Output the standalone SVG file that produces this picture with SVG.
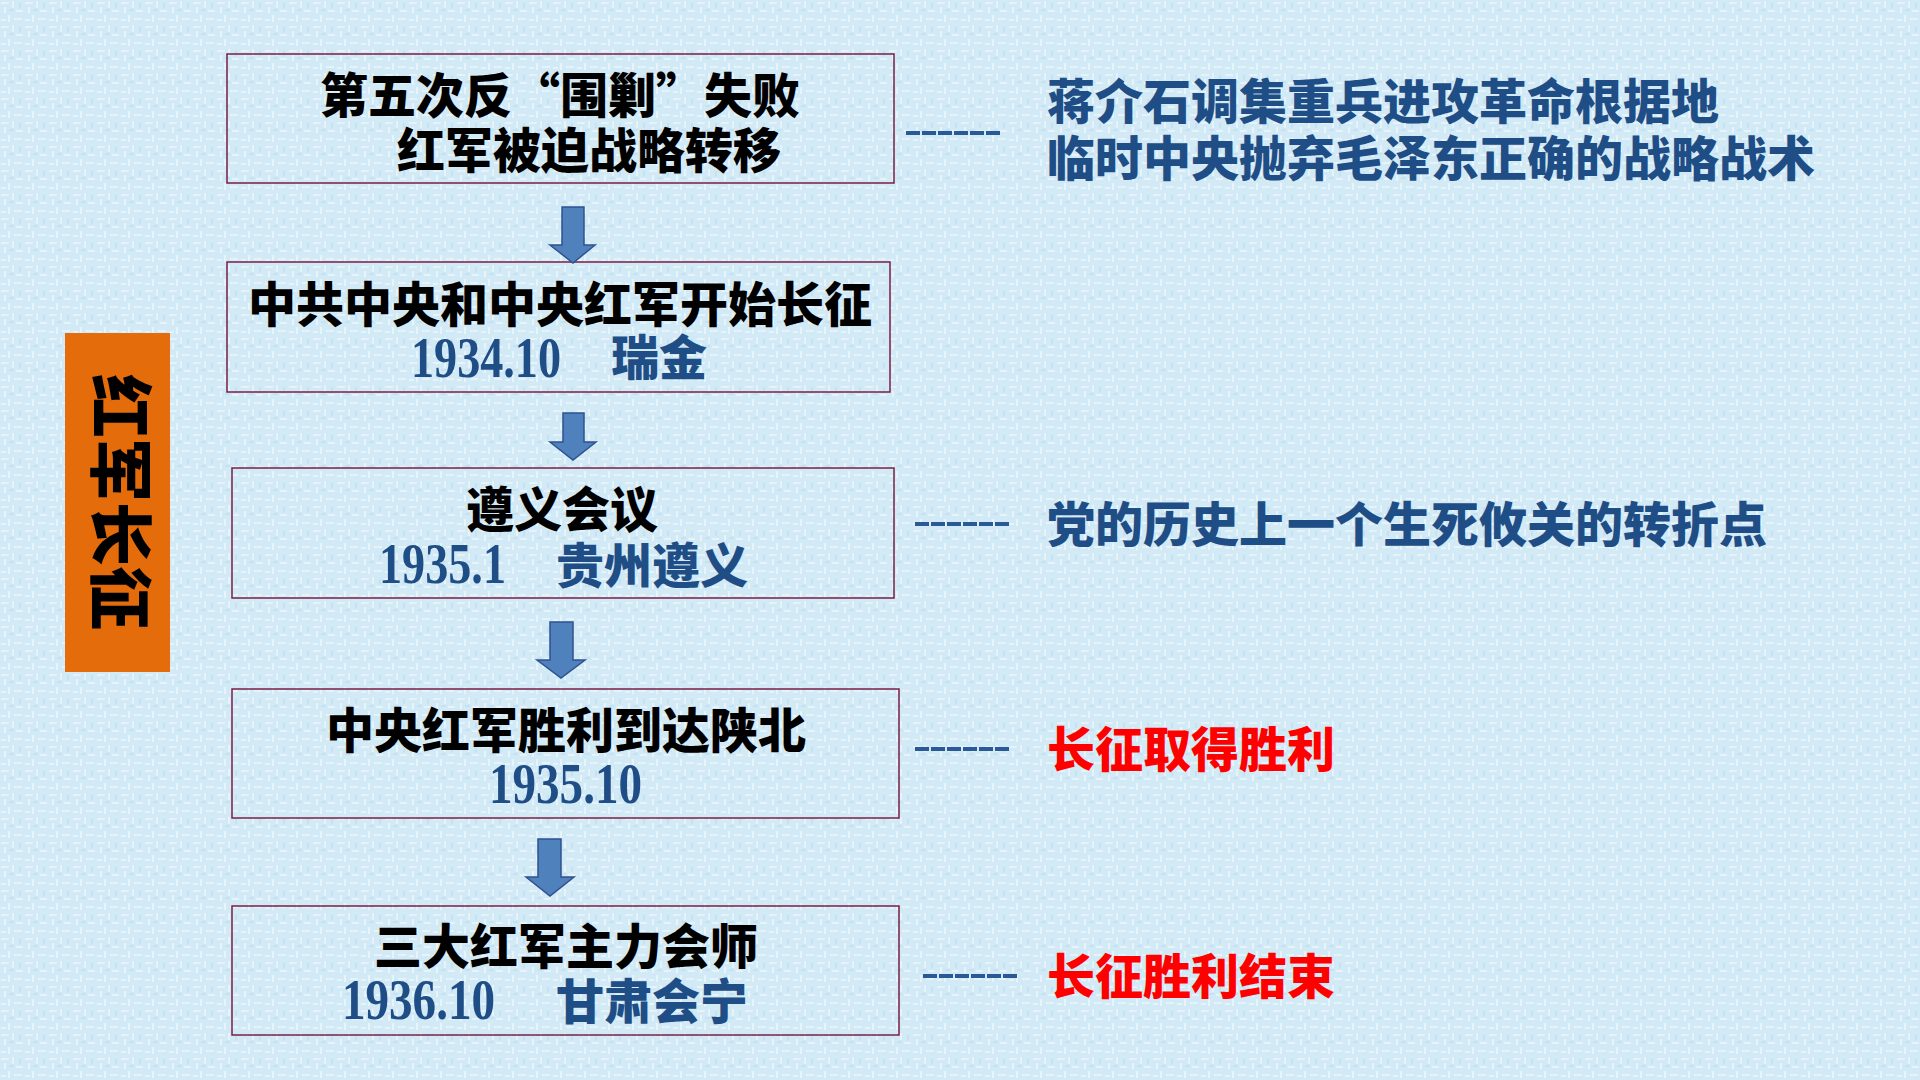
<svg xmlns="http://www.w3.org/2000/svg" width="1920" height="1080" viewBox="0 0 1920 1080">
<style>
.box{fill:none;stroke:#7a1f45;stroke-width:1.5}
.t{font-family:"Noto Sans CJK SC","Noto Sans",sans-serif;font-weight:900;font-size:48px}
.blk{fill:#000}
.blu{fill:#1f4e86}
.red{fill:#ff0000}
.num{font-family:"Liberation Serif","Times New Roman",serif;font-weight:700;font-size:56px;fill:#1f4e86}
.arrow{fill:#4f81bd;stroke:#2f528f;stroke-width:1.5}
.dash{stroke:#2a5a96;stroke-width:4;stroke-dasharray:14 2;fill:none}
</style>
<defs>
<pattern id="tex" width="24" height="24" patternUnits="userSpaceOnUse">
<rect width="24" height="24" fill="#d2e9f6"/>
<rect x="1" y="2" width="8" height="2" fill="#e6f3fb"/>
<rect x="12" y="1" width="2" height="7" fill="#e6f3fb"/>
<rect x="4" y="7" width="2" height="6" fill="#e8f4fc"/>
<rect x="16" y="10" width="7" height="2" fill="#e6f3fb"/>
<rect x="8" y="15" width="2" height="7" fill="#e8f4fc"/>
<rect x="14" y="18" width="8" height="2" fill="#e6f3fb"/>
<rect x="1" y="19" width="5" height="2" fill="#e6f3fb"/>
<rect x="19" y="3" width="2" height="5" fill="#c6e1f2"/>
<rect x="9" y="9" width="5" height="2" fill="#c6e1f2"/>
</pattern>
</defs>
<rect width="1920" height="1080" fill="url(#tex)"/>

<g id="title">
<rect x="65" y="333" width="105" height="339" fill="#e46c0a"/>
<text class="t" fill="#000" text-anchor="middle" transform="translate(97,502) rotate(90)" style="font-size:64px">红军长征</text>
</g>

<g id="node1">
<rect class="box" x="227" y="54" width="667" height="129"/>
<text class="t blk" x="320" y="113">第五次反“围剿”失败</text>
<text class="t blk" x="397" y="168">红军被迫战略转移</text>
</g>
<g id="node2">
<rect class="box" x="227" y="262" width="663" height="130"/>
<text class="t blk" x="248" y="322">中共中央和中央红军开始长征</text>
<text class="num" x="411" y="377" textLength="150" lengthAdjust="spacingAndGlyphs">1934.10</text>
<text class="t blu" x="611" y="375">瑞金</text>
</g>
<g id="node3">
<rect class="box" x="232" y="468" width="662" height="130"/>
<text class="t blk" x="466" y="527">遵义会议</text>
<text class="num" x="379" y="583" textLength="127" lengthAdjust="spacingAndGlyphs">1935.1</text>
<text class="t blu" x="556" y="583">贵州遵义</text>
</g>
<g id="node4">
<rect class="box" x="232" y="689" width="667" height="129"/>
<text class="t blk" x="326" y="748">中央红军胜利到达陕北</text>
<text class="num" x="489" y="803" textLength="153" lengthAdjust="spacingAndGlyphs">1935.10</text>
</g>
<g id="node5">
<rect class="box" x="232" y="906" width="667" height="129"/>
<text class="t blk" x="374" y="964">三大红军主力会师</text>
<text class="num" x="342" y="1019" textLength="153" lengthAdjust="spacingAndGlyphs">1936.10</text>
<text class="t blu" x="556" y="1019">甘肃会宁</text>
</g>

<g id="note1">
<text class="t blu" x="1047" y="119">蒋介石调集重兵进攻革命根据地</text>
<text class="t blu" x="1047" y="176">临时中央抛弃毛泽东正确的战略战术</text>
</g>
<g id="note2">
<text class="t blu" x="1047" y="542">党的历史上一个生死攸关的转折点</text>
</g>
<g id="note3">
<text class="t red" x="1047" y="767">长征取得胜利</text>
</g>
<g id="note4">
<text class="t red" x="1047" y="994">长征胜利结束</text>
</g>

<g id="connectors">
<polygon class="arrow" points="562,207 584,207 584,245 595,245 573,263 550,245 562,245"/>
<polygon class="arrow" points="563,413 584,413 584,442 596,442 573,460 550,442 563,442"/>
<polygon class="arrow" points="550,622 573,622 573,660 585,660 561,678 537,660 550,660"/>
<polygon class="arrow" points="538,839 561,839 561,877 574,877 550,896 526,877 538,877"/>
<line class="dash" x1="906" y1="133" x2="1000" y2="133"/>
<line class="dash" x1="915" y1="524" x2="1009" y2="524"/>
<line class="dash" x1="915" y1="749" x2="1009" y2="749"/>
<line class="dash" x1="923" y1="976" x2="1017" y2="976"/>
</g>
</svg>
